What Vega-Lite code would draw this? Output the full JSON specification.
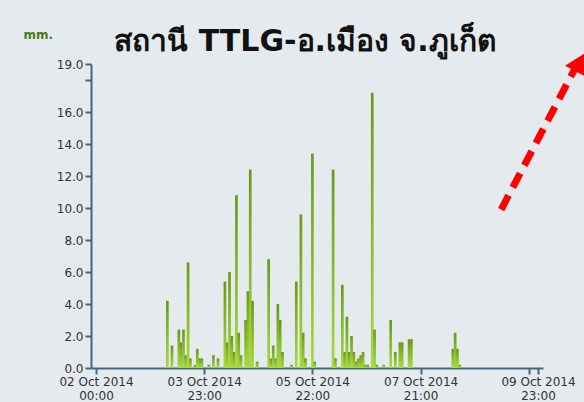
{
  "$schema": "https://vega.github.io/schema/vega-lite/v6.json",
  "width": 452,
  "height": 304,
  "autosize": "none",
  "padding": {"left": 91, "top": 64, "right": 41, "bottom": 34},
  "background": "#e4eaed",
  "config": {
    "view": {"stroke": null},
    "axis": {
      "grid": false,
      "labelOverlap": false,
      "labelFlush": false,
      "labelFont": "DejaVu Sans",
      "labelFontSize": 12,
      "labelColor": "#333333",
      "labelPadding": 2,
      "domainColor": "#3f6b7f",
      "domainWidth": 2,
      "tickColor": "#3f6b7f",
      "tickWidth": 2,
      "tickSize": 6
    }
  },
  "title": {
    "text": "สถานี TTLG-อ.เมือง จ.ภูเก็ต",
    "frame": "group",
    "anchor": "middle",
    "dx": -12,
    "dy": 64,
    "offset": 11,
    "baseline": "alphabetic",
    "font": "DejaVu Sans",
    "fontSize": 30,
    "fontWeight": "bold",
    "color": "#111111"
  },
  "layer": [
    {
      "data": {
        "values": [
          {"t": "2014-10-03T07:00:00Z", "mm": 4.2},
          {"t": "2014-10-03T09:00:00Z", "mm": 1.4},
          {"t": "2014-10-03T12:00:00Z", "mm": 2.4},
          {"t": "2014-10-03T13:00:00Z", "mm": 1.6},
          {"t": "2014-10-03T14:00:00Z", "mm": 2.4},
          {"t": "2014-10-03T15:00:00Z", "mm": 0.8},
          {"t": "2014-10-03T16:00:00Z", "mm": 6.6},
          {"t": "2014-10-03T17:00:00Z", "mm": 0.6},
          {"t": "2014-10-03T19:00:00Z", "mm": 0.2},
          {"t": "2014-10-03T20:00:00Z", "mm": 1.2},
          {"t": "2014-10-03T21:00:00Z", "mm": 0.6},
          {"t": "2014-10-03T22:00:00Z", "mm": 0.6},
          {"t": "2014-10-04T01:00:00Z", "mm": 0.2},
          {"t": "2014-10-04T03:00:00Z", "mm": 0.8},
          {"t": "2014-10-04T05:00:00Z", "mm": 0.6},
          {"t": "2014-10-04T08:00:00Z", "mm": 5.4},
          {"t": "2014-10-04T09:00:00Z", "mm": 1.6},
          {"t": "2014-10-04T10:00:00Z", "mm": 6.0},
          {"t": "2014-10-04T11:00:00Z", "mm": 2.0},
          {"t": "2014-10-04T12:00:00Z", "mm": 1.0},
          {"t": "2014-10-04T13:00:00Z", "mm": 10.8},
          {"t": "2014-10-04T14:00:00Z", "mm": 2.2},
          {"t": "2014-10-04T15:00:00Z", "mm": 0.8},
          {"t": "2014-10-04T17:00:00Z", "mm": 3.0},
          {"t": "2014-10-04T18:00:00Z", "mm": 4.8},
          {"t": "2014-10-04T19:00:00Z", "mm": 12.4},
          {"t": "2014-10-04T20:00:00Z", "mm": 4.2},
          {"t": "2014-10-04T22:00:00Z", "mm": 0.4},
          {"t": "2014-10-05T03:00:00Z", "mm": 6.8},
          {"t": "2014-10-05T04:00:00Z", "mm": 0.6},
          {"t": "2014-10-05T05:00:00Z", "mm": 1.4},
          {"t": "2014-10-05T06:00:00Z", "mm": 0.6},
          {"t": "2014-10-05T07:00:00Z", "mm": 4.0},
          {"t": "2014-10-05T08:00:00Z", "mm": 3.0},
          {"t": "2014-10-05T09:00:00Z", "mm": 1.0},
          {"t": "2014-10-05T13:00:00Z", "mm": 0.2},
          {"t": "2014-10-05T15:00:00Z", "mm": 5.4},
          {"t": "2014-10-05T17:00:00Z", "mm": 9.6},
          {"t": "2014-10-05T18:00:00Z", "mm": 2.2},
          {"t": "2014-10-05T19:00:00Z", "mm": 0.6},
          {"t": "2014-10-05T22:00:00Z", "mm": 13.4},
          {"t": "2014-10-05T23:00:00Z", "mm": 0.4},
          {"t": "2014-10-06T07:00:00Z", "mm": 12.4},
          {"t": "2014-10-06T08:00:00Z", "mm": 0.6},
          {"t": "2014-10-06T11:00:00Z", "mm": 5.2},
          {"t": "2014-10-06T12:00:00Z", "mm": 1.0},
          {"t": "2014-10-06T13:00:00Z", "mm": 3.2},
          {"t": "2014-10-06T14:00:00Z", "mm": 1.0},
          {"t": "2014-10-06T15:00:00Z", "mm": 2.0},
          {"t": "2014-10-06T16:00:00Z", "mm": 1.0},
          {"t": "2014-10-06T17:00:00Z", "mm": 0.4},
          {"t": "2014-10-06T18:00:00Z", "mm": 0.6},
          {"t": "2014-10-06T19:00:00Z", "mm": 0.8},
          {"t": "2014-10-06T20:00:00Z", "mm": 1.0},
          {"t": "2014-10-06T21:00:00Z", "mm": 0.2},
          {"t": "2014-10-06T22:00:00Z", "mm": 0.2},
          {"t": "2014-10-07T00:00:00Z", "mm": 17.2},
          {"t": "2014-10-07T01:00:00Z", "mm": 2.4},
          {"t": "2014-10-07T02:00:00Z", "mm": 0.2},
          {"t": "2014-10-07T05:00:00Z", "mm": 0.2},
          {"t": "2014-10-07T08:00:00Z", "mm": 3.0},
          {"t": "2014-10-07T10:00:00Z", "mm": 1.0},
          {"t": "2014-10-07T12:00:00Z", "mm": 1.6},
          {"t": "2014-10-07T13:00:00Z", "mm": 1.6},
          {"t": "2014-10-07T16:00:00Z", "mm": 1.8},
          {"t": "2014-10-07T17:00:00Z", "mm": 1.8},
          {"t": "2014-10-08T11:00:00Z", "mm": 1.2},
          {"t": "2014-10-08T12:00:00Z", "mm": 2.2},
          {"t": "2014-10-08T13:00:00Z", "mm": 1.2},
          {"t": "2014-10-08T14:00:00Z", "mm": 0.2}
        ]
      },
      "mark": {
        "type": "bar",
        "size": 2.7,
        "color": {
          "gradient": "linear",
          "x1": 0, "y1": 0, "x2": 0, "y2": 1,
          "stops": [
            {"offset": 0, "color": "#6a981c"},
            {"offset": 1, "color": "#a9da42"}
          ]
        }
      },
      "encoding": {
        "x": {
          "field": "t",
          "type": "temporal",
          "scale": {
            "type": "utc",
            "domain": [
              {"year": 2014, "month": 10, "date": 2, "hours": 0, "utc": true},
              {"year": 2014, "month": 10, "date": 10, "hours": 0, "utc": true}
            ],
            "nice": false
          },
          "axis": {
            "title": null,
            "tickCount": 20,
            "values": [
              {"year": 2014, "month": 10, "date": 2, "hours": 0, "utc": true},
              {"year": 2014, "month": 10, "date": 3, "hours": 23, "utc": true},
              {"year": 2014, "month": 10, "date": 5, "hours": 22, "utc": true},
              {"year": 2014, "month": 10, "date": 7, "hours": 21, "utc": true},
              {"year": 2014, "month": 10, "date": 9, "hours": 20, "utc": true},
              {"year": 2014, "month": 10, "date": 10, "hours": 0, "utc": true}
            ],
            "labelExpr": "datum.value >= utc(2014,9,10) ? ['09 Oct 2014', '23:00'] : (datum.value > utc(2014,9,9) ? '' : [utcFormat(datum.value, '%d %b %Y'), utcFormat(datum.value, '%H:%M')])",
            "labelOverlap": false,
            "labelLineHeight": 14
          }
        },
        "y": {
          "field": "mm",
          "type": "quantitative",
          "scale": {"domain": [0, 19], "nice": false},
          "axis": {
            "title": "mm.",
            "titleAngle": 0,
            "titleAlign": "left",
            "titleBaseline": "alphabetic",
            "titleX": -68,
            "titleY": -26,
            "titleFont": "DejaVu Sans",
            "titleFontSize": 12,
            "titleFontWeight": "bold",
            "titleColor": "#4a7c18",
            "tickCount": 20,
            "values": [0, 2, 4, 6, 8, 10, 12, 14, 16, 18, 19],
            "labelExpr": "datum.value == 18 ? '' : format(datum.value, '.1f')",
            "labelOverlap": false
          }
        }
      }
    },
    {
      "data": {
        "values": [
          {"t": "2014-10-09T08:00:00Z", "v": 9.9, "t2": "2014-10-10T16:00:00Z", "v2": 18.7}
        ]
      },
      "mark": {"type": "rule", "color": "#ff0000", "strokeWidth": 7, "strokeDash": [16, 9], "strokeCap": "butt"},
      "encoding": {
        "x": {"field": "t", "type": "temporal"},
        "y": {"field": "v", "type": "quantitative"},
        "x2": {"field": "t2"},
        "y2": {"field": "v2"}
      }
    },
    {
      "data": {
        "values": [
          {"t": "2014-10-10T18:00:00Z", "v": 19.1}
        ]
      },
      "mark": {"type": "point", "shape": "triangle-up", "filled": true, "color": "#ff0000", "opacity": 1, "size": 500, "angle": 28},
      "encoding": {
        "x": {"field": "t", "type": "temporal"},
        "y": {"field": "v", "type": "quantitative"}
      }
    }
  ]
}
